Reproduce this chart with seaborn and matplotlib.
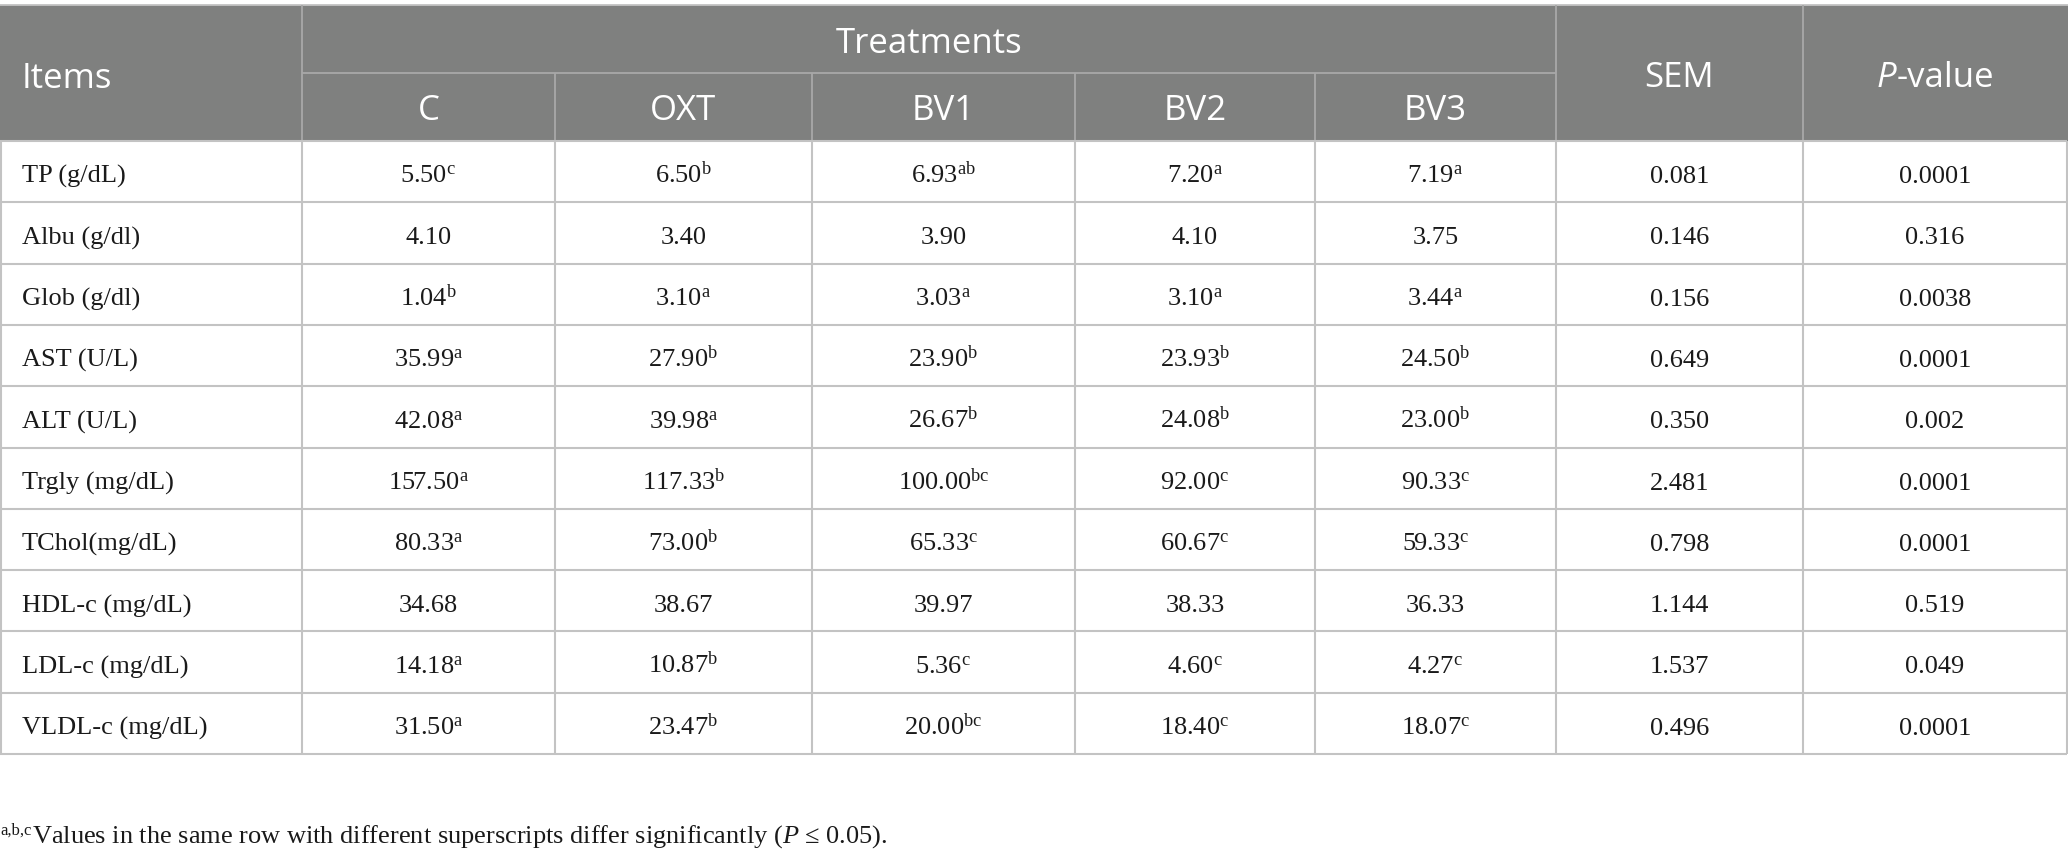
import matplotlib
matplotlib.use("Agg")
import matplotlib.pyplot as plt
import seaborn as sns

# --------------------------
# Datos de la tabla
# --------------------------
items = ["TP (g/dL)", "Albu (g/dl)", "Glob (g/dl)", "AST (U/L)", "ALT (U/L)",
         "Trgly (mg/dL)", "TChol(mg/dL)", "HDL-c (mg/dL)", "LDL-c (mg/dL)",
         "VLDL-c (mg/dL)"]
treatments = ["C", "OXT", "BV1", "BV2", "BV3"]

val_c = [5.50, 4.10, 1.04, 35.99, 42.08, 157.50, 80.33, 34.68, 14.18, 31.50]
sup_c = ["c", "", "b", "a", "a", "a", "a", "", "a", "a"]
val_oxt = [6.50, 3.40, 3.10, 27.90, 39.98, 117.33, 73.00, 38.67, 10.87, 23.47]
sup_oxt = ["b", "", "a", "b", "a", "b", "b", "", "b", "b"]
val_bv1 = [6.93, 3.90, 3.03, 23.90, 26.67, 100.00, 65.33, 39.97, 5.36, 20.00]
sup_bv1 = ["ab", "", "a", "b", "b", "bc", "c", "", "c", "bc"]
val_bv2 = [7.20, 4.10, 3.10, 23.93, 24.08, 92.00, 60.67, 38.33, 4.60, 18.40]
sup_bv2 = ["a", "", "a", "b", "b", "c", "c", "", "c", "c"]
val_bv3 = [7.19, 3.75, 3.44, 24.50, 23.00, 90.33, 59.33, 36.33, 4.27, 18.07]
sup_bv3 = ["a", "", "a", "b", "b", "c", "c", "", "c", "c"]

sem = ["0.081", "0.146", "0.156", "0.649", "0.350", "2.481", "0.798", "1.144",
       "1.537", "0.496"]
p_value = ["0.0001", "0.316", "0.0038", "0.0001", "0.002", "0.0001", "0.0001",
           "0.519", "0.049", "0.0001"]

foot_sup = "a,b,c"
footnote = ("Values in the same row with different superscripts differ "
            "significantly (")

# --------------------------
# Estilo
# --------------------------
sns.set_theme(style="white")
plt.rcParams["mathtext.fontset"] = "custom"
plt.rcParams["mathtext.rm"] = "Liberation Serif"
plt.rcParams["mathtext.it"] = "Liberation Serif:italic"

HEAD_BG = "#7f807f"
HEAD_LINE = "#a8a8a8"
BODY_LINE = "#c3c3c3"
SERIF = "Liberation Serif"
SANS = "Open Sans"

W, H = 2068, 859
col_edges = [0, 302, 555, 812, 1075, 1315, 1556, 1803, 2067]
y_top, y_mid, y_head = 5, 73, 141
row_h = (754 - y_head) / len(items)

fig = plt.figure(figsize=(W / 100, H / 100), dpi=100)
ax = fig.add_axes([0, 0, 1, 1])
ax.set_xlim(0, W)
ax.set_ylim(H, 0)
ax.axis("off")

# --------------------------
# Cabecera
# --------------------------
ax.axhspan(y_top, y_head, xmin=0, xmax=1, color=HEAD_BG, lw=0, zorder=0)
ax.hlines(y_top, 0, W, color=BODY_LINE, lw=1.3, zorder=2)
ax.hlines(y_mid, col_edges[1], col_edges[6], color=HEAD_LINE, lw=1.3, zorder=2)
for x in [col_edges[1], col_edges[6], col_edges[7]]:
    ax.vlines(x, y_top, y_head, color=HEAD_LINE, lw=1.3, zorder=2)
for x in col_edges[2:6]:
    ax.vlines(x, y_mid, y_head, color=HEAD_LINE, lw=1.3, zorder=2)

hkw = dict(color="white", fontsize=25, family=SANS, va="baseline")
ax.text(22, 88, "Items", ha="left", **hkw)
ax.text((col_edges[1] + col_edges[6]) / 2, 53, "Treatments", ha="center", **hkw)
for j, name in enumerate(treatments):
    ax.text((col_edges[j + 1] + col_edges[j + 2]) / 2, 120, name, ha="center", **hkw)
ax.text((col_edges[6] + col_edges[7]) / 2, 87, "SEM", ha="center", **hkw)

# P-value: P en cursiva + "-value", centrado en su columna
cx = (col_edges[7] + col_edges[8]) / 2
t_p = ax.text(0, 87, "P", ha="left", fontstyle="italic", **hkw)
t_v = ax.text(0, 87, "-value", ha="left", **hkw)
fig.canvas.draw()
r = fig.canvas.get_renderer()
wp = t_p.get_window_extent(r).width
wv = t_v.get_window_extent(r).width
x0 = cx - (wp + wv) / 2
t_p.set_x(x0)
t_v.set_x(x0 + wp + 1)

# --------------------------
# Cuerpo
# --------------------------
for i in range(len(items) + 1):
    y = y_head + i * row_h
    ax.hlines(y, 0, col_edges[-1], color=BODY_LINE, lw=1.5, zorder=2)
for x in col_edges:
    ax.vlines(x + (0.8 if x == 0 else 0), y_head, y_head + len(items) * row_h,
              color=BODY_LINE, lw=1.5, zorder=2)

bkw = dict(color="#1a1a1a", fontsize=19, family=SERIF, va="baseline")
groups = [(val_c, sup_c), (val_oxt, sup_oxt), (val_bv1, sup_bv1),
          (val_bv2, sup_bv2), (val_bv3, sup_bv3)]


def with_sup(value, sup):
    s = f"{value:.2f}"
    if sup:
        s += r"$^{\mathrm{" + sup + "}}$"
    return s


for i, item in enumerate(items):
    yb = y_head + i * row_h + 42
    ax.text(22, yb, item, ha="left", **bkw)
    for j, (vals, sups) in enumerate(groups):
        xc = (col_edges[j + 1] + col_edges[j + 2]) / 2
        ax.text(xc, yb, with_sup(vals[i], sups[i]), ha="center", **bkw)
    ax.text((col_edges[6] + col_edges[7]) / 2, yb, sem[i], ha="center", **bkw)
    ax.text((col_edges[7] + col_edges[8]) / 2, yb, p_value[i], ha="center", **bkw)

# --------------------------
# Nota al pie
# --------------------------
fkw = dict(color="#1a1a1a", family=SERIF, va="baseline", ha="left")
t_s = ax.text(0, 835, foot_sup, fontsize=12, **fkw)
fig.canvas.draw()
ws = t_s.get_window_extent(fig.canvas.get_renderer()).width
ax.text(ws + 1, 843, footnote + r"$\mathit{P}$ ≤ 0.05).", fontsize=19, **fkw)

fig.savefig("out.png", dpi=100, facecolor="white")
plt.close(fig)
